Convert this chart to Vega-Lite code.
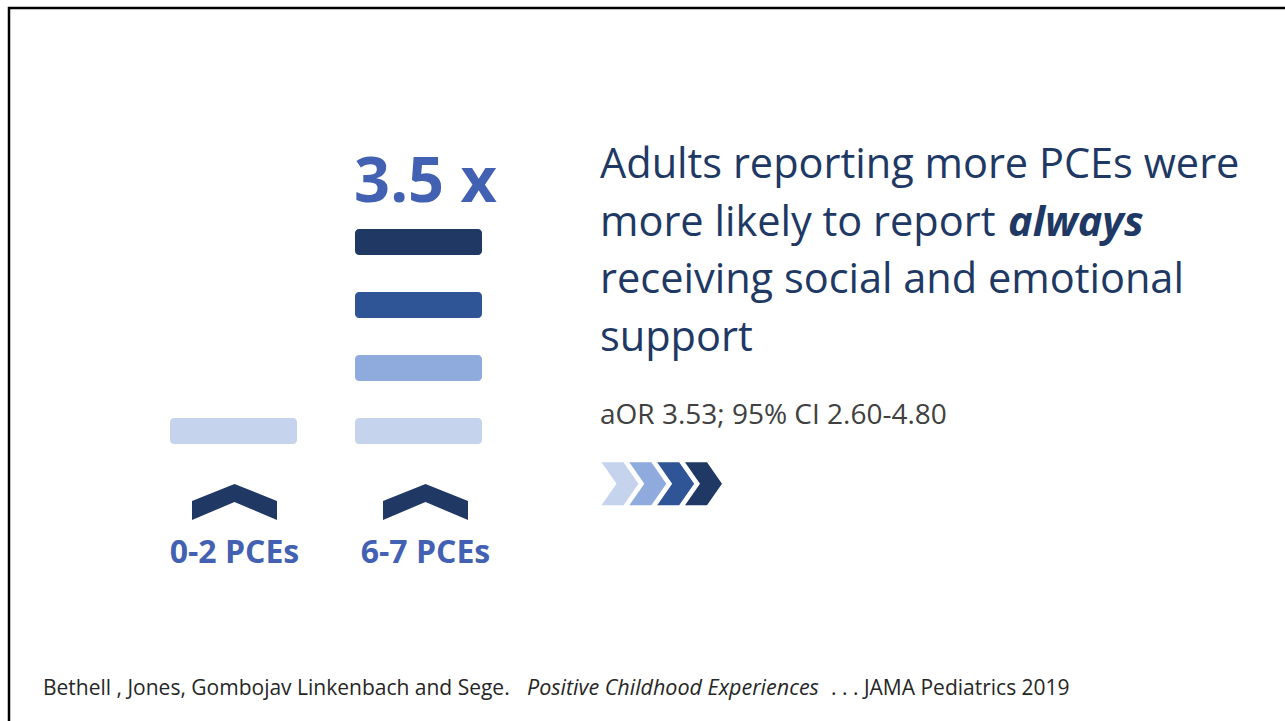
{
  "$schema": "https://vega.github.io/schema/vega-lite/v6.json",
  "width": 1276,
  "height": 713,
  "autosize": {"type": "none"},
  "padding": {"left": 9, "top": 8, "right": 0, "bottom": 0},
  "background": "#ffffff",
  "config": {
    "view": {"stroke": "#000000", "strokeWidth": 2.5, "strokeDash": [1276, 1989, 713]},
    "text": {"font": "Open Sans"}
  },
  "datasets": {
    "bars": [
      {"group": "0-2 PCEs", "unit": 1, "tier": 1},
      {"group": "6-7 PCEs", "unit": 1, "tier": 1},
      {"group": "6-7 PCEs", "unit": 2, "tier": 2},
      {"group": "6-7 PCEs", "unit": 3, "tier": 3},
      {"group": "6-7 PCEs", "unit": 4, "tier": 4}
    ],
    "groups": [
      {"group": "0-2 PCEs"},
      {"group": "6-7 PCEs", "ratio": "3.5 x"}
    ],
    "headline": [
      {"line": 1, "text": "Adults reporting more PCEs were", "emphasis": "no"},
      {"line": 2, "text": "more likely to report", "emphasis": "no"},
      {"line": 2, "text": "always", "emphasis": "yes"},
      {"line": 3, "text": "receiving social and emotional", "emphasis": "no"},
      {"line": 4, "text": "support", "emphasis": "no"}
    ],
    "arrows": [
      {"step": 1, "tier": 1},
      {"step": 2, "tier": 2},
      {"step": 3, "tier": 3},
      {"step": 4, "tier": 4}
    ],
    "stat": [{"text": "aOR 3.53; 95% CI 2.60-4.80"}],
    "citation": [
      {"part": 1, "text": "Bethell , Jones, Gombojav Linkenbach and Sege."},
      {"part": 2, "text": "Positive Childhood Experiences"},
      {"part": 3, "text": ". . . JAMA Pediatrics 2019"}
    ]
  },
  "layer": [
    {
      "data": {"name": "bars"},
      "mark": {"type": "bar", "cornerRadius": 4},
      "encoding": {
        "x": {"field": "group", "type": "nominal", "axis": null,
              "scale": {"domain": ["0-2 PCEs", "6-7 PCEs"], "range": [161, 473], "paddingInner": 0.3135, "paddingOuter": 0}},
        "y": {"field": "unit", "type": "ordinal", "axis": null,
              "scale": {"domain": [5, 4, 3, 2, 1, 0, -1], "range": [158, 562], "paddingInner": 0.5873, "paddingOuter": 0}},
        "color": {"field": "tier", "type": "ordinal", "legend": null,
                  "scale": {"domain": [1, 2, 3, 4], "range": ["#C5D3EC", "#8FAADC", "#2F5597", "#203864"]}}
      }
    },
    {
      "data": {"name": "groups"},
      "encoding": {
        "x": {"field": "group", "type": "nominal", "axis": null,
              "scale": {"type": "point", "domain": ["0-2 PCEs", "6-7 PCEs"], "range": [225.5, 416.5], "padding": 0}}
      },
      "layer": [
        {
          "mark": {"type": "point", "filled": true, "opacity": 1, "color": "#203864", "strokeWidth": 0, "size": 7225,
                   "shape": "M -1 0.164 L 0 -0.236 L 1 0.164 L 1 0.612 L 0 0.188 L -1 0.612 Z"},
          "encoding": {
            "y": {"datum": 0, "type": "ordinal", "axis": null,
                  "scale": {"type": "point", "domain": [5, 4, 3, 2, 1, 0, -1], "range": [171, 549], "padding": 0}}
          }
        },
        {
          "mark": {"type": "text", "font": "Open Sans", "fontWeight": "bold", "fontSize": 32, "color": "#4361B2", "align": "center", "baseline": "alphabetic", "dy": 6},
          "encoding": {
            "y": {"datum": -1, "type": "ordinal", "axis": null,
                  "scale": {"type": "point", "domain": [5, 4, 3, 2, 1, 0, -1], "range": [171, 549], "padding": 0}},
            "text": {"field": "group"}
          }
        },
        {
          "transform": [{"filter": "isValid(datum.ratio)"}],
          "mark": {"type": "text", "font": "Open Sans", "fontWeight": "bold", "fontSize": 63, "color": "#4361B2", "align": "center", "baseline": "alphabetic", "dy": 23},
          "encoding": {
            "y": {"datum": 5, "type": "ordinal", "axis": null,
                  "scale": {"type": "point", "domain": [5, 4, 3, 2, 1, 0, -1], "range": [171, 549], "padding": 0}},
            "text": {"field": "ratio"}
          }
        }
      ]
    },
    {
      "layer": [
        {
          "data": {"name": "headline"},
          "transform": [{"filter": "datum.emphasis == 'no'"}],
          "mark": {"type": "text", "font": "Open Sans", "fontSize": 41.5, "color": "#203864", "align": "left", "baseline": "alphabetic", "dx": -47},
          "encoding": {
            "y": {"field": "line", "type": "quantitative", "axis": null,
                  "scale": {"domain": [1, 4], "range": [170, 343], "nice": false, "zero": false}},
            "text": {"field": "text"}
          }
        },
        {
          "data": {"name": "headline"},
          "transform": [{"filter": "datum.emphasis == 'yes'"}],
          "mark": {"type": "text", "font": "Open Sans", "fontSize": 41.5, "fontWeight": "bold", "fontStyle": "italic", "color": "#203864", "align": "left", "baseline": "alphabetic", "dx": 361},
          "encoding": {
            "y": {"field": "line", "type": "quantitative", "axis": null},
            "text": {"field": "text"}
          }
        },
        {
          "data": {"name": "stat"},
          "mark": {"type": "text", "font": "Open Sans", "fontSize": 28, "color": "#404040", "align": "left", "baseline": "alphabetic", "dx": -47, "dy": 15},
          "encoding": {
            "y": {"datum": 5, "type": "quantitative", "axis": null},
            "text": {"field": "text"}
          }
        },
        {
          "data": {"name": "arrows"},
          "mark": {"type": "point", "filled": true, "opacity": 1, "strokeWidth": 0, "size": 1849,
                   "shape": "M -0.86 -1 L 0.163 -1 L 0.86 0 L 0.163 1 L -0.86 1 L -0.163 0 Z"},
          "encoding": {
            "x": {"field": "step", "type": "quantitative", "axis": null,
                  "scale": {"domain": [1, 4], "range": [611, 694.5], "nice": false, "zero": false}},
            "y": {"datum": 6.3, "type": "quantitative", "axis": null},
            "color": {"field": "tier", "type": "ordinal", "legend": null,
                      "scale": {"domain": [1, 2, 3, 4], "range": ["#C5D3EC", "#8FAADC", "#2F5597", "#203864"]}}
          }
        }
      ]
    },
    {
      "data": {"name": "citation"},
      "transform": [{"filter": "datum.part == 1"}],
      "mark": {"type": "text", "font": "Open Sans", "fontSize": 21, "color": "#262626", "align": "left", "baseline": "alphabetic", "dx": -604, "dy": 330.5},
      "encoding": {"text": {"field": "text"}}
    },
    {
      "data": {"name": "citation"},
      "transform": [{"filter": "datum.part == 2"}],
      "mark": {"type": "text", "font": "Open Sans", "fontSize": 21.5, "fontStyle": "italic", "color": "#262626", "align": "left", "baseline": "alphabetic", "dx": -120, "dy": 330.5},
      "encoding": {"text": {"field": "text"}}
    },
    {
      "data": {"name": "citation"},
      "transform": [{"filter": "datum.part == 3"}],
      "mark": {"type": "text", "font": "Open Sans", "fontSize": 21, "color": "#262626", "align": "left", "baseline": "alphabetic", "dx": 184, "dy": 330.5},
      "encoding": {"text": {"field": "text"}}
    }
  ],
  "resolve": {"scale": {"x": "independent", "y": "independent", "color": "independent", "shape": "independent", "size": "independent"}}
}
